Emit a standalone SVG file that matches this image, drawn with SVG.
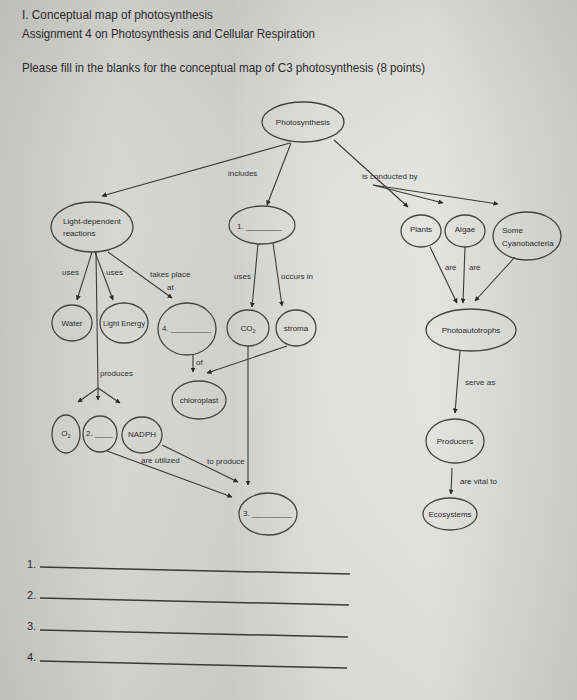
<svg xmlns="http://www.w3.org/2000/svg" width="577" height="700" viewBox="0 0 577 700">
<defs>
<linearGradient id="bg" x1="0" y1="0" x2="1" y2="0">
<stop offset="0" stop-color="#c4c5c1"/>
<stop offset="0.2" stop-color="#d6d7d3"/>
<stop offset="0.4" stop-color="#cfd0cc"/>
<stop offset="0.55" stop-color="#dfe0dc"/>
<stop offset="0.75" stop-color="#e3e4e1"/>
<stop offset="1" stop-color="#cacbc7"/>
</linearGradient>
<linearGradient id="shade" x1="0" y1="0" x2="0" y2="1">
<stop offset="0" stop-color="#9a9a96" stop-opacity="0.18"/>
<stop offset="0.4" stop-color="#ffffff" stop-opacity="0"/>
<stop offset="1" stop-color="#9a9a96" stop-opacity="0.12"/>
</linearGradient>
<marker id="ah" viewBox="0 0 10 10" refX="9" refY="5" markerWidth="5" markerHeight="5" markerUnits="userSpaceOnUse" orient="auto">
<path d="M0,0 L10,5 L0,10 Z" fill="#2a2a2a"/>
</marker>
</defs>
<style>
.node ellipse{fill:none;stroke:#444442;stroke-width:1.3}
.t{font-family:"Liberation Sans","Open Sans",sans-serif;fill:#2a2a2a}
.n{font-family:"Liberation Sans","Open Sans",sans-serif;fill:#2a2a2a;font-size:8px}
.l{font-family:"Liberation Sans","Open Sans",sans-serif;fill:#2f2f2f;font-size:8px}
.c line{stroke:#3a3a38;stroke-width:1.1;fill:none}
.a{marker-end:url(#ah)}
.ans line{stroke:#3a3a38;stroke-width:1.5}
</style>
<rect x="0" y="0" width="577" height="700" fill="url(#bg)"/>
<rect x="0" y="0" width="577" height="700" fill="url(#shade)"/>

<g id="header">
<text class="t" x="22" y="19" font-size="13" textLength="191" lengthAdjust="spacingAndGlyphs">I. Conceptual map of photosynthesis</text>
<text class="t" x="22" y="38" font-size="13" textLength="293" lengthAdjust="spacingAndGlyphs">Assignment 4 on Photosynthesis and Cellular Respiration</text>
<text class="t" x="22" y="72" font-size="13" textLength="403" lengthAdjust="spacingAndGlyphs">Please fill in the blanks for the conceptual map of C3 photosynthesis (8 points)</text>
</g>

<g id="connectors" class="c">
<line class="a" x1="290" y1="143" x2="102" y2="196"/>
<line class="a" x1="291" y1="143" x2="267" y2="205"/>
<line class="a" x1="334" y1="140" x2="408" y2="207"/>
<line class="a" x1="373" y1="185" x2="443" y2="203"/>
<line class="a" x1="373" y1="185" x2="498" y2="204"/>
<line class="a" x1="92" y1="252" x2="77" y2="300"/>
<line class="a" x1="95" y1="252" x2="113" y2="300"/>
<line x1="96" y1="252" x2="98" y2="388"/>
<line class="a" x1="98" y1="388" x2="78" y2="402"/>
<line class="a" x1="98" y1="388" x2="98" y2="400"/>
<line class="a" x1="98" y1="388" x2="120" y2="403"/>
<line class="a" x1="108" y1="252" x2="172" y2="298"/>
<line class="a" x1="258" y1="244" x2="252" y2="307"/>
<line class="a" x1="273" y1="243" x2="282" y2="306"/>
<line class="a" x1="193" y1="355" x2="193" y2="372"/>
<line class="a" x1="287" y1="346" x2="207" y2="373"/>
<line class="a" x1="248" y1="346" x2="248" y2="485"/>
<line class="a" x1="162" y1="445" x2="238" y2="482"/>
<line class="a" x1="107" y1="451" x2="232" y2="497"/>
<line class="a" x1="430" y1="247" x2="457" y2="303"/>
<line class="a" x1="465" y1="247" x2="463" y2="303"/>
<line class="a" x1="515" y1="257" x2="475" y2="301"/>
<line class="a" x1="460" y1="351" x2="455" y2="413"/>
<line class="a" x1="452" y1="468" x2="451" y2="494"/>
</g>

<g id="labels">
<text class="l" x="228" y="176">includes</text>
<text class="l" x="362" y="179">is conducted by</text>
<text class="l" x="62" y="275">uses</text>
<text class="l" x="106" y="275">uses</text>
<text class="l" x="150" y="277">takes place</text>
<text class="l" x="167" y="290">at</text>
<text class="l" x="234" y="279">uses</text>
<text class="l" x="281" y="279">occurs in</text>
<text class="l" x="196" y="365">of</text>
<text class="l" x="100" y="376">produces</text>
<text class="l" x="141" y="463">are utilized</text>
<text class="l" x="207" y="464">to produce</text>
<text class="l" x="445" y="270">are</text>
<text class="l" x="469" y="270">are</text>
<text class="l" x="465" y="385">serve as</text>
<text class="l" x="460" y="484">are vital to</text>
</g>

<g id="n-photosynthesis" class="node"><ellipse cx="303" cy="122" rx="41" ry="20"/><text class="n" x="303" y="125" text-anchor="middle">Photosynthesis</text></g>
<g id="n-light-dependent" class="node"><ellipse cx="92" cy="227" rx="41" ry="25"/><text class="n" x="63" y="224">Light-dependent</text><text class="n" x="63" y="236">reactions</text></g>
<g id="n-1" class="node"><ellipse cx="262" cy="225" rx="33" ry="19"/><text class="n" x="237" y="229">1. ________</text></g>
<g id="n-plants" class="node"><ellipse cx="421" cy="231" rx="20" ry="16"/><text class="n" x="421" y="232" text-anchor="middle">Plants</text></g>
<g id="n-algae" class="node"><ellipse cx="465" cy="231" rx="20" ry="16"/><text class="n" x="465" y="232" text-anchor="middle">Algae</text></g>
<g id="n-cyanobacteria" class="node"><ellipse cx="527" cy="236" rx="34" ry="24"/><text class="n" x="502" y="233">Some</text><text class="n" x="502" y="246">Cyanobacteria</text></g>
<g id="n-water" class="node"><ellipse cx="72" cy="323" rx="20" ry="18"/><text class="n" x="72" y="326" text-anchor="middle">Water</text></g>
<g id="n-light-energy" class="node"><ellipse cx="124" cy="323" rx="24" ry="20"/><text class="n" x="124" y="326" text-anchor="middle" textLength="42" lengthAdjust="spacingAndGlyphs">Light Energy</text></g>
<g id="n-4" class="node"><ellipse cx="187" cy="329" rx="29" ry="26"/><text class="n" x="162" y="331">4. _________</text></g>
<g id="n-co2" class="node"><ellipse cx="248" cy="328" rx="21" ry="18"/><text class="n" x="248" y="331" text-anchor="middle">CO<tspan font-size="5.5" dy="1.5">2</tspan></text></g>
<g id="n-stroma" class="node"><ellipse cx="296" cy="328" rx="20" ry="18"/><text class="n" x="296" y="331" text-anchor="middle">stroma</text></g>
<g id="n-chloroplast" class="node"><ellipse cx="199" cy="400" rx="27" ry="19"/><text class="n" x="199" y="403" text-anchor="middle">chloroplast</text></g>
<g id="n-o2" class="node"><ellipse cx="66" cy="434" rx="14" ry="19"/><text class="n" x="66" y="436" text-anchor="middle">O<tspan font-size="5.5" dy="1.5">2</tspan></text></g>
<g id="n-2" class="node"><ellipse cx="100" cy="434" rx="17" ry="18"/><text class="n" x="86" y="436">2. ____</text></g>
<g id="n-nadph" class="node"><ellipse cx="142" cy="435" rx="20" ry="18"/><text class="n" x="142" y="437" text-anchor="middle">NADPH</text></g>
<g id="n-3" class="node"><ellipse cx="268" cy="514" rx="29" ry="21"/><text class="n" x="243" y="516">3. _________</text></g>
<g id="n-photoautotrophs" class="node"><ellipse cx="471" cy="330" rx="45" ry="21"/><text class="n" x="471" y="333" text-anchor="middle">Photoautotrophs</text></g>
<g id="n-producers" class="node"><ellipse cx="455" cy="441" rx="29" ry="22"/><text class="n" x="455" y="444" text-anchor="middle">Producers</text></g>
<g id="n-ecosystems" class="node"><ellipse cx="450" cy="514" rx="27" ry="16"/><text class="n" x="450" y="517" text-anchor="middle">Ecosystems</text></g>

<g id="answers" class="ans">
<text class="t" x="27" y="568" font-size="11">1.</text>
<line x1="40" y1="567" x2="350" y2="574"/>
<text class="t" x="27" y="599" font-size="11">2.</text>
<line x1="40" y1="598" x2="349" y2="605"/>
<text class="t" x="27" y="630" font-size="11">3.</text>
<line x1="40" y1="630" x2="348" y2="637"/>
<text class="t" x="27" y="661" font-size="11">4.</text>
<line x1="40" y1="661" x2="347" y2="668"/>
</g>
</svg>
